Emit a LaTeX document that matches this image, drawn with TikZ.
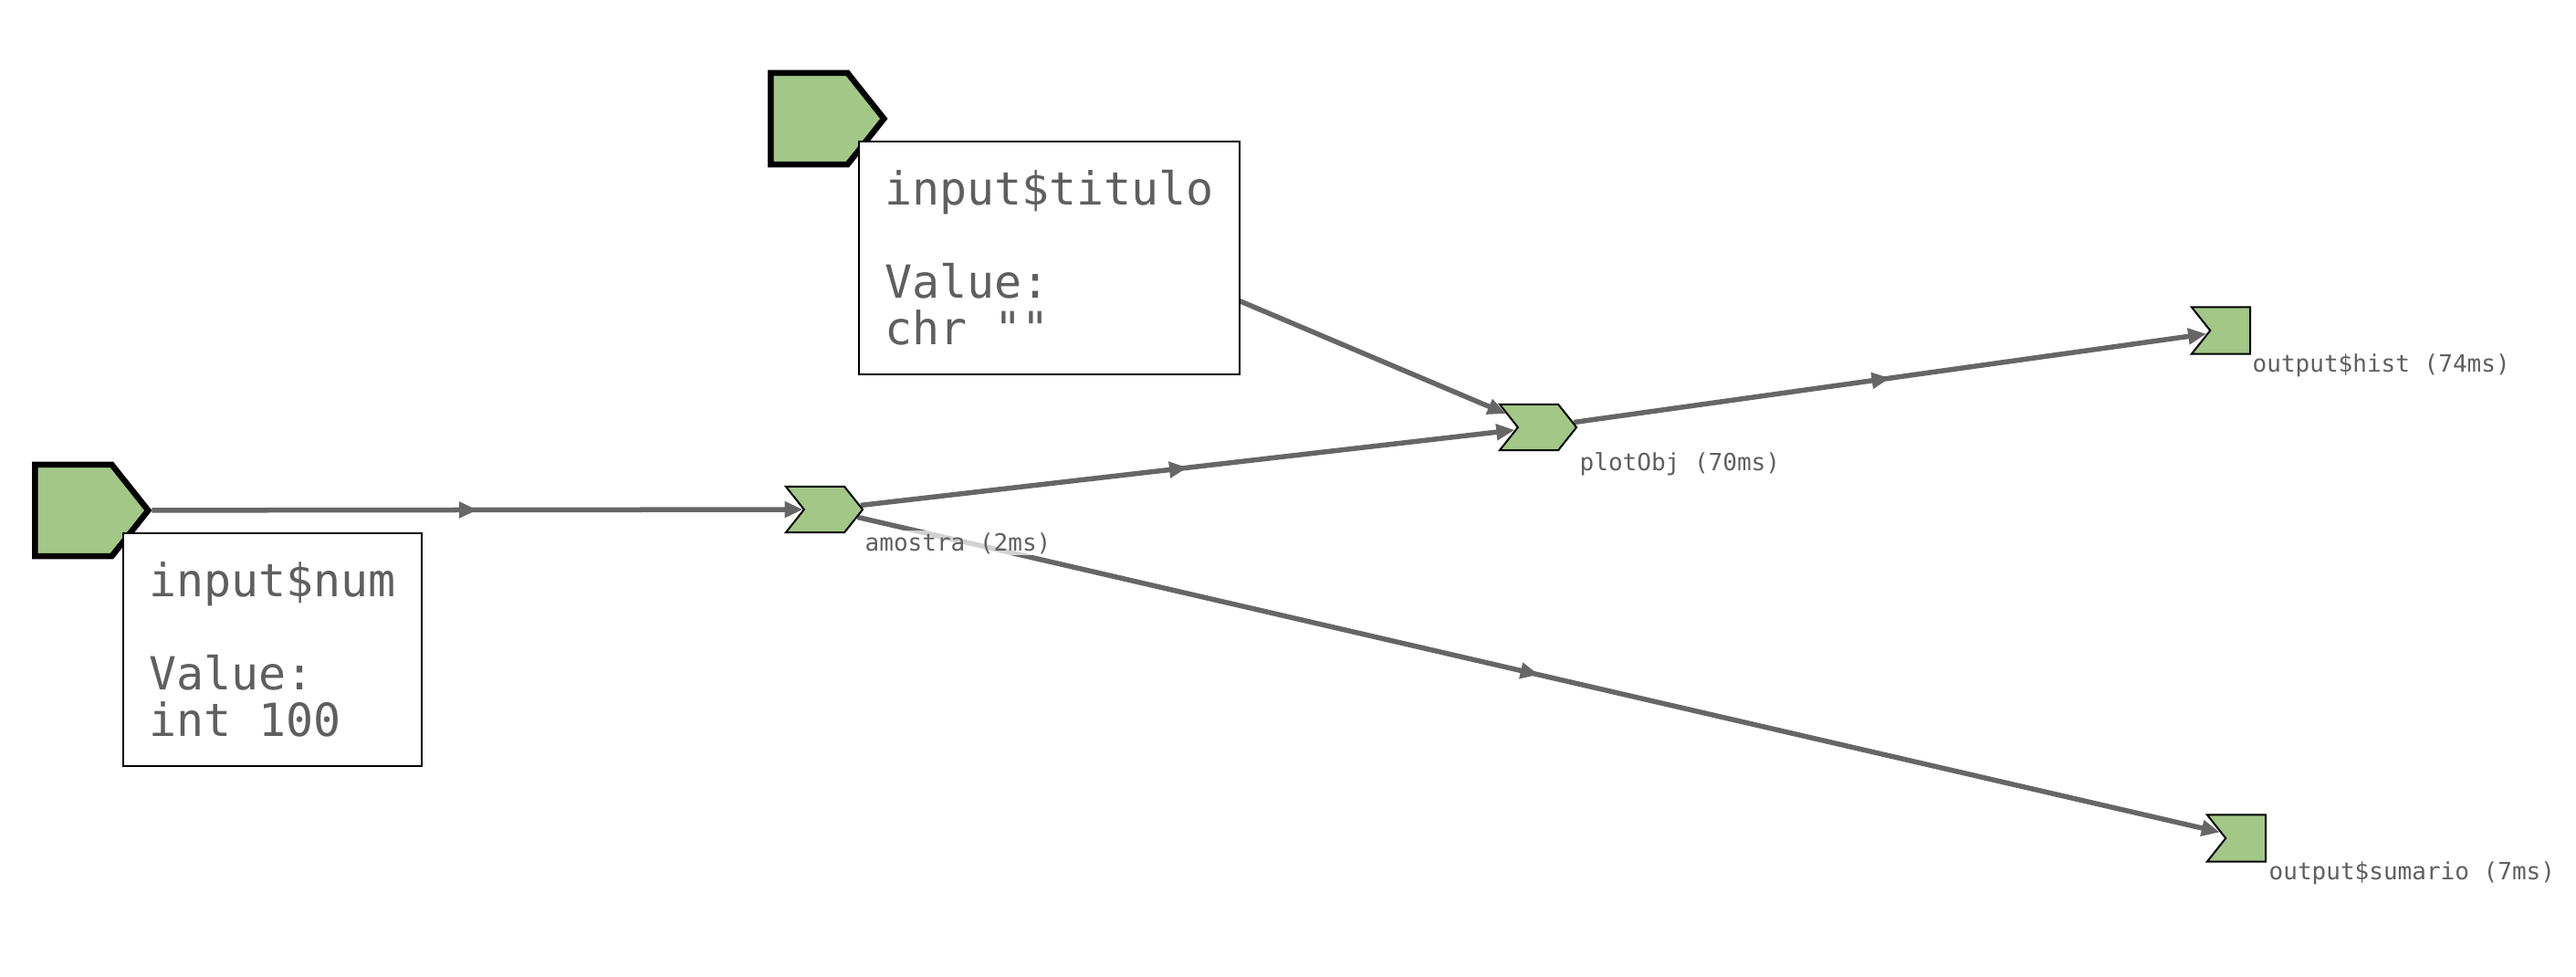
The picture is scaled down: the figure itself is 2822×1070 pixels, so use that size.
\documentclass[tikz,border=0pt]{standalone}
\usepackage{fontspec}
\setmonofont{DejaVu Sans Mono}
\usetikzlibrary{shapes.symbols,arrows.meta,decorations.markings,positioning}
\definecolor{nodegreen}{RGB}{162,199,135}
\definecolor{edgegray}{RGB}{102,102,102}
\definecolor{txtgray}{RGB}{95,95,95}
\pgfdeclarelayer{bg}
\pgfsetlayers{bg,main}
\begin{document}
\begin{tikzpicture}[x=0.01cm,y=-0.01cm,
  inp/.style={signal, signal to=east, signal pointer angle=103, fill=nodegreen, draw=black, line width=0.065cm, minimum width=1.24cm, minimum height=1cm, inner sep=0pt, anchor=west},
  reac/.style={signal, signal from=west, signal to=east, signal pointer angle=103, fill=nodegreen, draw=black, line width=0.02cm, minimum width=0.84cm, minimum height=0.5cm, inner sep=0pt},
  outp/.style={signal, signal from=west, signal to=nowhere, signal pointer angle=103, fill=nodegreen, draw=black, line width=0.02cm, minimum width=0.64cm, minimum height=0.51cm, inner sep=0pt, anchor=east},
  valbox/.style={draw=black, line width=0.02cm, fill=white, text=txtgray, font=\ttfamily\fontsize{14.2}{14.5}\selectfont, align=left, anchor=north west, inner xsep=0.28cm, minimum height=2.55cm},
  lbl/.style={text=txtgray, font=\ttfamily\fontsize{7.4}{8}\selectfont, anchor=base west, inner sep=0.02cm, fill=white, fill opacity=0.7, text opacity=1},
  flow/.style={draw=edgegray, line width=0.055cm, -{Triangle[length=0.2cm,width=0.17cm]}, postaction={decorate}, decoration={markings, mark=at position 0.5 with {\arrow{Triangle[length=0.2cm,width=0.17cm]}}}}]
\useasboundingbox (0,0) rectangle (2822,1070);

\node[inp] (num) at (35,559) {};
\node[inp] (titulo) at (841,130) {};
\node[reac] (amostra) at (903,558) {};
\node[reac] (plotObj) at (1685,468) {};
\node[outp] (hist) at (2466,362) {};
\node[outp] (sumario) at (2483,918) {};

\begin{pgfonlayer}{bg}
\draw[flow] (num) -- (amostra);
\draw[flow] (titulo) -- (plotObj);
\draw[flow] (amostra) -- (plotObj);
\draw[flow] (plotObj) -- (hist);
\draw[flow] (amostra) -- (sumario);
\end{pgfonlayer}

\node[valbox] (num-box) at (134,583) {input\$num\\[14.5pt]Value:\\int 100};
\node[valbox] (titulo-box) at (940,154) {input\$titulo\\[14.5pt]Value:\\chr ""};

\node[lbl] (amostra-lbl) at (945,603) {amostra (2ms)};
\node[lbl] (plotObj-lbl) at (1728,515) {plotObj (70ms)};
\node[lbl] (hist-lbl) at (2465,407) {output\$hist (74ms)};
\node[lbl] (sumario-lbl) at (2483,963) {output\$sumario (7ms)};
\end{tikzpicture}
\end{document}
